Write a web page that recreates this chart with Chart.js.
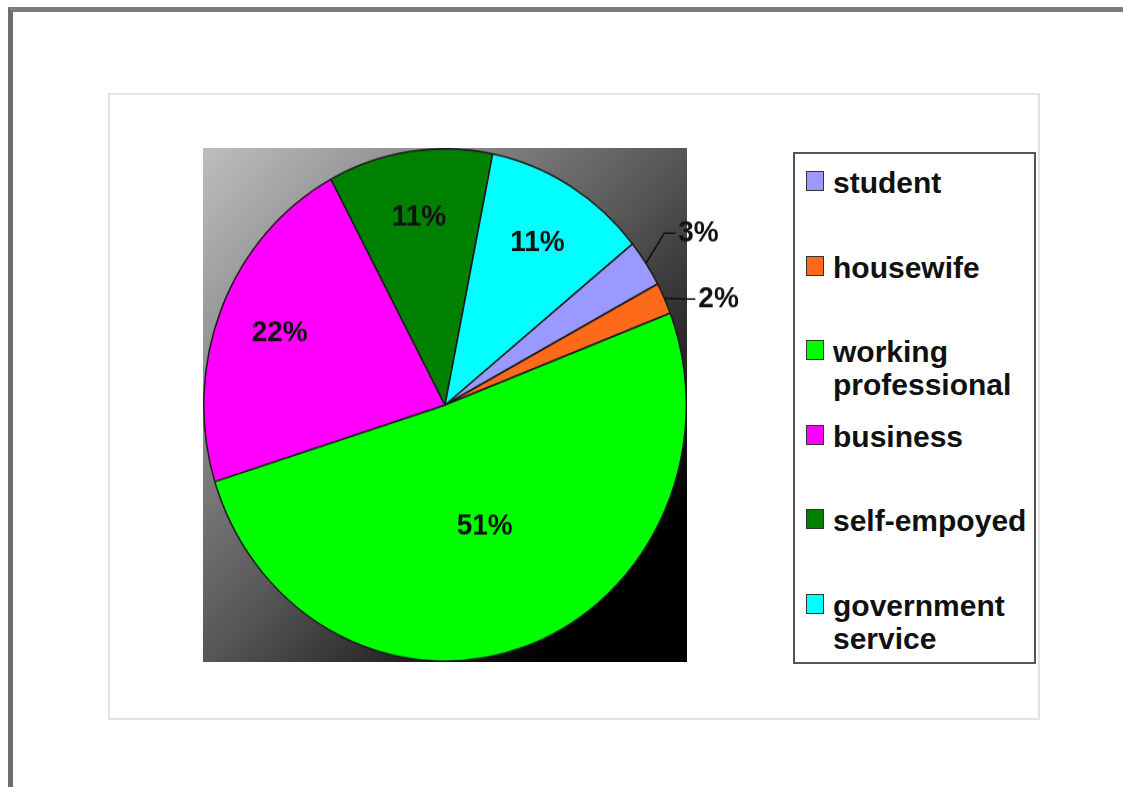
<!DOCTYPE html>
<html>
<head>
<meta charset="utf-8">
<title>Occupation</title>
<script src="https://cdn.jsdelivr.net/npm/chart.js@4/dist/chart.umd.min.js"></script>
<style>
  html, body { margin: 0; padding: 0; background: #fff; }
  body { width: 1123px; height: 787px; position: relative; overflow: hidden;
         font-family: "Liberation Sans", Arial, sans-serif; }
  #frame { position: absolute; left: 8px; top: 7px; width: 1130px; height: 800px;
           border-top: 5px solid #7c7c7c; border-left: 5px solid #6e6e6e; }
  #sheet { position: absolute; left: 108px; top: 93px; width: 928px; height: 623px;
           border: 2px solid #e3e3e3; background: #fff; }
  #pieWrap { position: absolute; left: 203px; top: 148px; width: 560px; height: 484px;
             transform: scaleY(1.062); transform-origin: 0 0; }
  #legend { position: absolute; left: 793px; top: 152px; width: 239px; height: 508px;
            border: 2px solid #555; background: #fff; }
  .item { height: 84.6px; box-sizing: border-box; padding: 12px 0 0 11px;
          display: flex; align-items: flex-start; }
  .swatch { width: 16px; height: 18px; border: 1.5px solid #333; margin: 5px 9px 0 0;
            flex: none; }
  .txt { font-weight: bold; font-size: 30px; line-height: 33px; color: #111; }
</style>
</head>
<body>
<div id="frame"></div>
<div id="sheet"></div>
<div id="pieWrap"><canvas id="pie" width="560" height="484"></canvas></div>
<div id="legend"></div>

<script>
// occupation breakdown, percent of respondents
const labels = ['student', 'housewife', 'working professional', 'business', 'self-empoyed', 'government service'];
const legendLines = [['student'], ['housewife'], ['working', 'professional'], ['business'], ['self-empoyed'], ['government', 'service']];
const shares = [3, 2, 51, 22, 11, 11];
const colors = ['#9999ff', '#ff6a1a', '#00ff00', '#ff00ff', '#008000', '#00ffff'];

// grey-to-black diagonal fill behind the pie
const plotBackground = {
    id: 'plotBackground',
    beforeDraw(chart) {
        const { ctx, chartArea: a } = chart;
        const g = ctx.createLinearGradient(a.left, a.top, a.right, a.bottom);
        g.addColorStop(0, '#bebebe');
        g.addColorStop(0.5, '#575757');
        g.addColorStop(0.85, '#000000');
        ctx.save();
        ctx.fillStyle = g;
        ctx.fillRect(a.left, a.top, a.right - a.left, a.bottom - a.top);
        ctx.restore();
    }
};

// percent labels: inside for big slices, leader lines for tiny ones
const sliceLabels = {
    id: 'sliceLabels',
    afterDatasetsDraw(chart) {
        const ctx = chart.ctx;
        const meta = chart.getDatasetMeta(0);
        const outside = [];
        ctx.save();
        ctx.font = 'bold 28px "Liberation Sans", Arial, sans-serif';
        ctx.fillStyle = '#111';
        ctx.strokeStyle = '#111';
        ctx.lineWidth = 1.5;
        ctx.textBaseline = 'middle';
        meta.data.forEach((arc, i) => {
            const p = arc.getProps(['x', 'y', 'startAngle', 'endAngle', 'outerRadius'], true);
            const mid = (p.startAngle + p.endAngle) / 2;
            const text = shares[i] + '%';
            if (shares[i] >= 5) {
                const f = shares[i] > 40 ? 0.5 : 0.74;
                ctx.textAlign = 'center';
                ctx.fillText(text, p.x + Math.cos(mid) * p.outerRadius * f, p.y + Math.sin(mid) * p.outerRadius * f);
            } else {
                const r = p.outerRadius + 22;
                outside.push({
                    text,
                    ex: p.x + Math.cos(mid) * p.outerRadius,
                    ey: p.y + Math.sin(mid) * p.outerRadius,
                    bx: p.x + Math.cos(mid) * r,
                    by: p.y + Math.sin(mid) * r
                });
            }
        });
        // spread neighbouring outside labels apart vertically
        const minGap = 62;
        for (let k = 1; k < outside.length; k++) {
            const a = outside[k - 1], b = outside[k];
            const gap = b.by - a.by;
            if (gap < minGap) {
                const d = (minGap - gap) / 2;
                a.by -= d;
                b.by += d;
            }
        }
        outside.forEach(o => {
            ctx.beginPath();
            ctx.moveTo(o.ex, o.ey);
            ctx.lineTo(o.bx, o.by - 3);
            ctx.lineTo(o.bx + 11, o.by - 3);
            ctx.stroke();
            ctx.textAlign = 'left';
            ctx.fillText(o.text, o.bx + 14, o.by - 3);
        });
        ctx.restore();
    }
};

new Chart(document.getElementById('pie'), {
    type: 'pie',
    data: {
        labels: labels,
        datasets: [{
            data: shares,
            backgroundColor: colors,
            borderColor: '#1a1a1a',
            borderWidth: 1.5
        }]
    },
    options: {
        responsive: false,
        animation: false,
        rotation: 51,
        layout: { padding: { left: 0, top: 0, bottom: 0, right: 76 } },
        plugins: {
            legend: { display: false },
            tooltip: { enabled: false }
        }
    },
    plugins: [plotBackground, sliceLabels]
});

// legend box on the right
const legend = document.getElementById('legend');
legendLines.forEach((lines, i) => {
    const item = document.createElement('div');
    item.className = 'item';
    const sw = document.createElement('span');
    sw.className = 'swatch';
    sw.style.background = colors[i];
    const txt = document.createElement('span');
    txt.className = 'txt';
    txt.innerHTML = lines.join('<br>');
    item.appendChild(sw);
    item.appendChild(txt);
    legend.appendChild(item);
});
</script>
</body>
</html>
